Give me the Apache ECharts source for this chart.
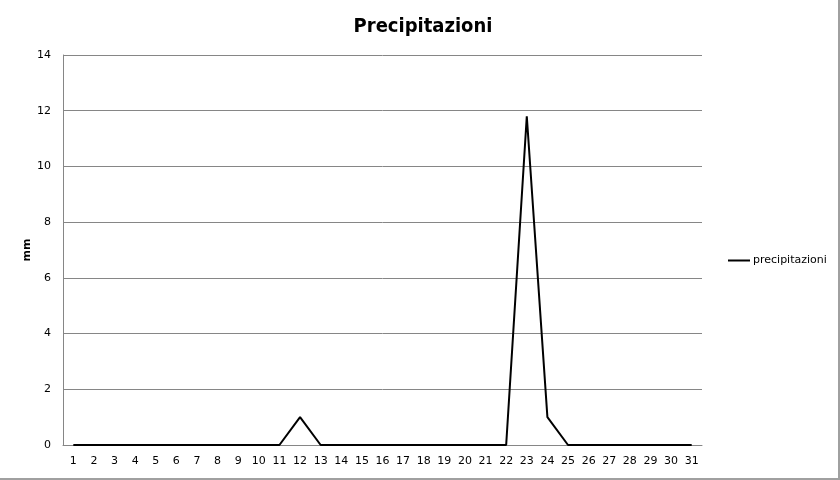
<!DOCTYPE html>
<html>
<head>
<meta charset="utf-8">
<script src="https://cdn.jsdelivr.net/npm/echarts@6/dist/echarts.min.js"></script>
<style>
html,body{margin:0;padding:0;background:#fff;}
#c{width:840px;height:480px;box-sizing:border-box;border-right:2px solid #a0a0a0;border-bottom:2px solid #a0a0a0;}
</style>
</head>
<body>
<div id="c"></div>
<script>
const days = ['1','2','3','4','5','6','7','8','9','10','11','12','13','14','15','16','17','18','19','20','21','22','23','24','25','26','27','28','29','30','31'];
const precipitazioni = [0,0,0,0,0,0,0,0,0,0,0,1,0,0,0,0,0,0,0,0,0,0,11.8,1,0,0,0,0,0,0,0];
const yAxisName = 'mm';

const chart = echarts.init(document.getElementById('c'));
chart.setOption({
  backgroundColor: '#fff',
  animation: false,
  title: {
    text: 'Precipitazioni',
    left: 418, top: 12, textAlign: 'center',
    textStyle: {fontFamily: 'DejaVu Sans Condensed', fontSize: 20, fontWeight: 'bold', color: '#000'}
  },
  legend: {
    data: ['precipitazioni'],
    orient: 'vertical',
    left: 723, top: 250,
    itemWidth: 22, itemHeight: 2, itemGap: 4,
    icon: 'rect',
    textStyle: {fontFamily: 'DejaVu Sans', fontSize: 11, color: '#000', padding: [0,0,0,-2]}
  },
  graphic: [{
    type: 'text',
    x: 27, y: 250,
    rotation: Math.PI / 2,
    style: {
      text: yAxisName,
      fontFamily: 'DejaVu Sans', fontSize: 11, fontWeight: 'bold', fill: '#000',
      align: 'center', verticalAlign: 'middle'
    }
  }],
  grid: {left: 63, right: 136, top: 55, bottom: 33},
  xAxis: {
    type: 'category',
    data: days,
    boundaryGap: true,
    axisLine: {lineStyle: {color: '#868686'}},
    axisTick: {show: false},
    axisLabel: {fontFamily: 'DejaVu Sans', fontSize: 11, color: '#000', margin: 11, interval: 0}
  },
  yAxis: {
    type: 'value',
    min: 0, max: 14, interval: 2,
    axisLine: {show: true, lineStyle: {color: '#868686'}},
    axisTick: {show: false},
    splitLine: {lineStyle: {color: '#868686'}},
    axisLabel: {fontFamily: 'DejaVu Sans', fontSize: 11, color: '#000', margin: 12}
  },
  series: [{
    name: 'precipitazioni',
    type: 'line',
    data: precipitazioni,
    symbol: 'none',
    lineStyle: {color: '#000', width: 2},
    itemStyle: {color: '#000'}
  }]
});
</script>
</body>
</html>
